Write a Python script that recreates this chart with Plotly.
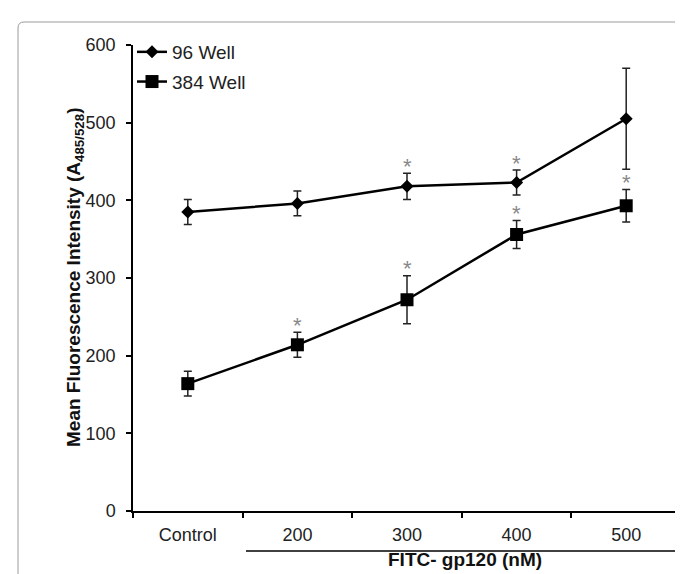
import plotly.graph_objects as go

categories = ["Control", "200", "300", "400", "500"]
well96 = [385, 396, 418, 423, 505]
well96_err = [16, 16, 17, 16, 65]
well96_sig = [False, False, True, True, False]
well384 = [164, 214, 272, 356, 393]
well384_err = [16, 16, 31, 18, 21]
well384_sig = [False, True, True, True, True]
yticks = [0, 100, 200, 300, 400, 500, 600]

W, H = 683, 574
L, R, T, B = 125, 10, 37, 71
PW, PH = W - L - R, H - T - B

def px(x):
    return (x - L) / PW

def py(y):
    return (H - B - y) / PH

FONT = "Arial, Liberation Sans, sans-serif"

fig = go.Figure()
fig.add_trace(go.Scatter(
    x=categories, y=well96, name="96 Well", mode="lines+markers",
    legendgroup="a",
    line=dict(color="black", width=2.5),
    marker=dict(symbol="diamond", size=10, color="black"),
    error_y=dict(type="data", array=well96_err, color="#222", thickness=1.5, width=4),
))
fig.add_trace(go.Scatter(
    x=categories, y=well384, name="384 Well", mode="lines+markers",
    legendgroup="b",
    line=dict(color="black", width=2.5),
    marker=dict(symbol="square", size=13, color="black"),
    error_y=dict(type="data", array=well384_err, color="#222", thickness=1.5, width=4),
))

annotations = []
for vals, errs, sig in [(well96, well96_err, well96_sig), (well384, well384_err, well384_sig)]:
    for i, (v, e, s) in enumerate(zip(vals, errs, sig)):
        if s:
            annotations.append(dict(x=i, y=v + e, xref="x", yref="y", text="*",
                                    showarrow=False, yanchor="middle", yshift=7,
                                    font=dict(family=FONT, size=22, color="#888")))

annotations.append(dict(x=px(53), y=py(270), xref="paper", yref="paper",
                        text="<b>Mean Fluorescence Intensity (A<sub>485/528</sub>)</b>",
                        textangle=-90, showarrow=False,
                        font=dict(family=FONT, size=19, color="#111")))
annotations.append(dict(x=px(457), y=py(564), xref="paper", yref="paper",
                        text="<b>FITC- gp120 (nM)</b>", showarrow=False,
                        font=dict(family=FONT, size=19, color="#111")))

shapes = [
    dict(type="line", xref="paper", yref="paper", x0=px(238), x1=px(677),
         y0=py(543), y1=py(543), line=dict(color="black", width=1.5)),
    dict(type="path", xref="paper", yref="paper",
         path=(f"M {px(10)},{py(580)} L {px(10)},{py(20)} "
               f"Q {px(10)},{py(14)} {px(16)},{py(14)} "
               f"L {px(676)},{py(14)} Q {px(682)},{py(14)} {px(682)},{py(20)} "
               f"L {px(682)},{py(580)}"),
         line=dict(color="#9a9a9a", width=1)),
]

fig.update_layout(
    width=W, height=H,
    margin=dict(l=L, r=R, t=T, b=B, autoexpand=False),
    paper_bgcolor="white", plot_bgcolor="white",
    font=dict(family=FONT, size=18, color="#222"),
    showlegend=True,
    legend=dict(x=px(124), y=py(25), xanchor="left", yanchor="top",
                bgcolor="rgba(0,0,0,0)", font=dict(size=19, color="#222"),
                tracegroupgap=2),
    annotations=annotations,
    shapes=shapes,
    xaxis=dict(type="category", range=[-0.5, 4.5], showgrid=False, zeroline=False,
               showline=True, linecolor="black", linewidth=1.5,
               ticks="outside", ticklen=5, tickcolor="black", tickwidth=1.5,
               tickson="boundaries", ticklabelstandoff=7,
               tickfont=dict(size=18, color="#222")),
    yaxis=dict(range=[0, 600], tickvals=yticks, showgrid=False, zeroline=False,
               showline=True, linecolor="black", linewidth=1.5,
               ticks="outside", ticklen=5, tickcolor="black", tickwidth=1.5,
               ticklabelstandoff=7, tickfont=dict(size=18, color="#222")),
)

fig.write_html("out.html")
